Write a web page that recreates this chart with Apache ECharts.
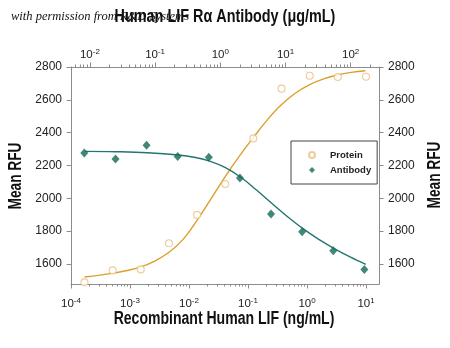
<!DOCTYPE html>
<html>
<head>
<meta charset="utf-8">
<script src="https://cdn.jsdelivr.net/npm/echarts@6/dist/echarts.min.js"></script>
<style>
  html, body { margin: 0; padding: 0; background: #fff; }
  #chart { width: 450px; height: 348px; }
</style>
</head>
<body>
<div id="chart"></div>
<script>
// Recombinant Human LIF (ng/mL), 3-fold dilutions
const proteinConc = [0.000169, 0.000508, 0.00152, 0.00457, 0.0137, 0.0412, 0.123, 0.370, 1.11, 3.33, 10];
const proteinRFU  = [1488, 1561, 1567, 1726, 1899, 2087, 2365, 2668, 2747, 2739, 2741];

// Human LIF R alpha antibody (ug/mL), 3-fold dilutions
const antibodyConc = [0.0082, 0.0247, 0.074, 0.222, 0.667, 2, 6, 18, 54, 162];
const antibodyRFU  = [2276, 2240, 2323, 2254, 2250, 2124, 1905, 1797, 1680, 1566];

// Fitted dose-response curves
const proteinFitConc = [0.000170, 0.000501, 0.000891, 0.00151, 0.00263, 0.00447, 0.00794, 0.0135, 0.0234, 0.0398, 0.0708, 0.120, 0.209, 0.363, 0.631, 1.07, 1.86, 3.24, 5.62, 9.77];
const proteinFitRFU  = [1521, 1543, 1560, 1582, 1618, 1668, 1750, 1862, 1995, 2125, 2255, 2365, 2475, 2568, 2640, 2690, 2726, 2751, 2767, 2777];
const antibodyFitConc = [0.0084, 0.0249, 0.0759, 0.230, 0.398, 0.687, 1.18, 2.06, 3.55, 6.21, 11.0, 19.0, 32.4, 56.0, 97.7, 170];
const antibodyFitRFU  = [2286, 2284, 2278, 2264, 2250, 2227, 2188, 2128, 2052, 1968, 1885, 1812, 1750, 1694, 1643, 1598];

// Axis ticks (log10 exponents) and RFU ticks
const bottomExponents = [-4, -3, -2, -1, 0, 1];
const topExponents = [-2, -1, 0, 1, 2];
const rfuTicks = [1600, 1800, 2000, 2200, 2400, 2600, 2800];

const FONT = "'Liberation Sans', Arial, sans-serif";
const AXIS_GRAY = '#8c8c8c';
const ORANGE = '#dba02a';
const ORANGE_LIGHT = '#e9bf85';
const TEAL = '#247570';
const TEAL_DARK = '#146859';

const log10 = Math.log10;
const pairs = (xs, ys) => xs.map((x, i) => [log10(x), ys[i]]);

// minor log ticks (2..9 x each decade) inside [lo, hi]
function minorTicks(lo, hi) {
  const out = [];
  for (let d = Math.floor(lo) - 1; d <= Math.ceil(hi); d++) {
    for (let m = 2; m <= 9; m++) {
      const v = d + log10(m);
      if (v > lo && v < hi) out.push(v);
    }
  }
  return out;
}

const BOTTOM_MIN = -4, BOTTOM_MAX = 1.22;
const TOP_MIN = -2.29, TOP_MAX = 2.434;

function expLabel(margin) {
  return {
    show: true,
    margin,
    formatter: v => '{b|10}{s|' + Math.round(v) + '}',
    rich: {
      b: { fontSize: 11.5, fontFamily: FONT, color: '#222', lineHeight: 14 },
      s: { fontSize: 8, fontFamily: FONT, color: '#222', verticalAlign: 'top', lineHeight: 8 }
    }
  };
}

function majorX(position, min, max, exps, margin) {
  const label = expLabel(margin);
  label.customValues = exps;
  return {
    type: 'value', position, min, max,
    axisLine: { show: true, onZero: false, lineStyle: { color: AXIS_GRAY, width: 1 } },
    axisTick: { show: true, customValues: exps, length: 4.5, inside: false, lineStyle: { color: AXIS_GRAY } },
    axisLabel: label,
    splitLine: { show: false }
  };
}
function minorX(position, min, max) {
  return {
    type: 'value', position, min, max,
    axisLine: { show: false, onZero: false },
    axisTick: { show: true, customValues: minorTicks(min, max), length: 2.5, lineStyle: { color: AXIS_GRAY } },
    axisLabel: { show: false },
    splitLine: { show: false }
  };
}
function rfuAxis(position) {
  return {
    type: 'value', position, min: 1478, max: 2800,
    axisLine: { show: true, onZero: false, lineStyle: { color: AXIS_GRAY, width: 1 } },
    axisTick: { show: true, customValues: rfuTicks, length: 4.5, lineStyle: { color: AXIS_GRAY } },
    axisLabel: {
      show: true, customValues: rfuTicks, margin: 9,
      fontSize: 12, fontFamily: FONT, color: '#222',
      formatter: v => String(Math.round(v))
    },
    splitLine: { show: false }
  };
}

function titleText(text, x, y, scale, opts) {
  return Object.assign({
    type: 'text', x, y, scaleX: scale,
    style: { text, font: 'bold 18px ' + FONT, fill: '#111', align: 'center', verticalAlign: 'middle' }
  }, opts || {});
}

const chart = echarts.init(document.getElementById('chart'), null, { renderer: 'canvas' });
chart.setOption({
  animation: false,
  backgroundColor: '#fff',
  grid: { left: 71, right: 71, top: 67, bottom: 64, containLabel: false },
  xAxis: [
    majorX('bottom', BOTTOM_MIN, BOTTOM_MAX, bottomExponents, 13),
    minorX('bottom', BOTTOM_MIN, BOTTOM_MAX),
    majorX('top', TOP_MIN, TOP_MAX, topExponents, 5),
    minorX('top', TOP_MIN, TOP_MAX)
  ],
  yAxis: [rfuAxis('left'), rfuAxis('right')],
  legend: {
    data: ['Protein', 'Antibody'],
    orient: 'vertical',
    left: 291, top: 141,
    itemWidth: 6, itemHeight: 6, itemGap: 5,
    padding: [9, 6, 9, 17],
    borderColor: '#444', borderWidth: 1,
    textStyle: { fontFamily: FONT, fontSize: 9.5, fontWeight: 'bold', color: '#222', padding: [0, 0, 0, 10] }
  },
  series: [
    {
      name: 'Protein fit', type: 'line', xAxisIndex: 0, yAxisIndex: 0,
      data: pairs(proteinFitConc, proteinFitRFU),
      smooth: 0.4, showSymbol: false, symbol: 'none',
      lineStyle: { color: ORANGE, width: 1.4 }, z: 2
    },
    {
      name: 'Antibody fit', type: 'line', xAxisIndex: 2, yAxisIndex: 0,
      data: pairs(antibodyFitConc, antibodyFitRFU),
      smooth: 0.4, showSymbol: false, symbol: 'none',
      lineStyle: { color: TEAL, width: 1.4 }, z: 2
    },
    {
      name: 'Protein', type: 'scatter', xAxisIndex: 0, yAxisIndex: 0,
      data: pairs(proteinConc, proteinRFU),
      symbol: 'circle', symbolSize: 7,
      itemStyle: { color: '#fff', borderColor: ORANGE_LIGHT, borderWidth: 1.1 }, z: 3
    },
    {
      name: 'Antibody', type: 'scatter', xAxisIndex: 2, yAxisIndex: 0,
      data: pairs(antibodyConc, antibodyRFU),
      symbol: 'diamond', symbolSize: [8, 9],
      itemStyle: { color: TEAL_DARK }, z: 3
    }
  ],
  graphic: [
    {
      type: 'text', x: 11, y: 17,
      style: { text: 'with permission from R&D Systems', font: 'italic 12.5px "Liberation Serif", "DejaVu Serif", serif', fill: '#111', align: 'left', verticalAlign: 'middle' }
    },
    titleText('Human LIF R\u03b1 Antibody (\u03bcg/mL)', 225, 17, 0.8),
    titleText('Recombinant Human LIF (ng/mL)', 224, 319, 0.78),
    titleText('Mean RFU', 16, 176, 0.76, { rotation: Math.PI / 2 }),
    titleText('Mean RFU', 435, 175, 0.76, { rotation: Math.PI / 2 })
  ]
});
</script>
</body>
</html>
